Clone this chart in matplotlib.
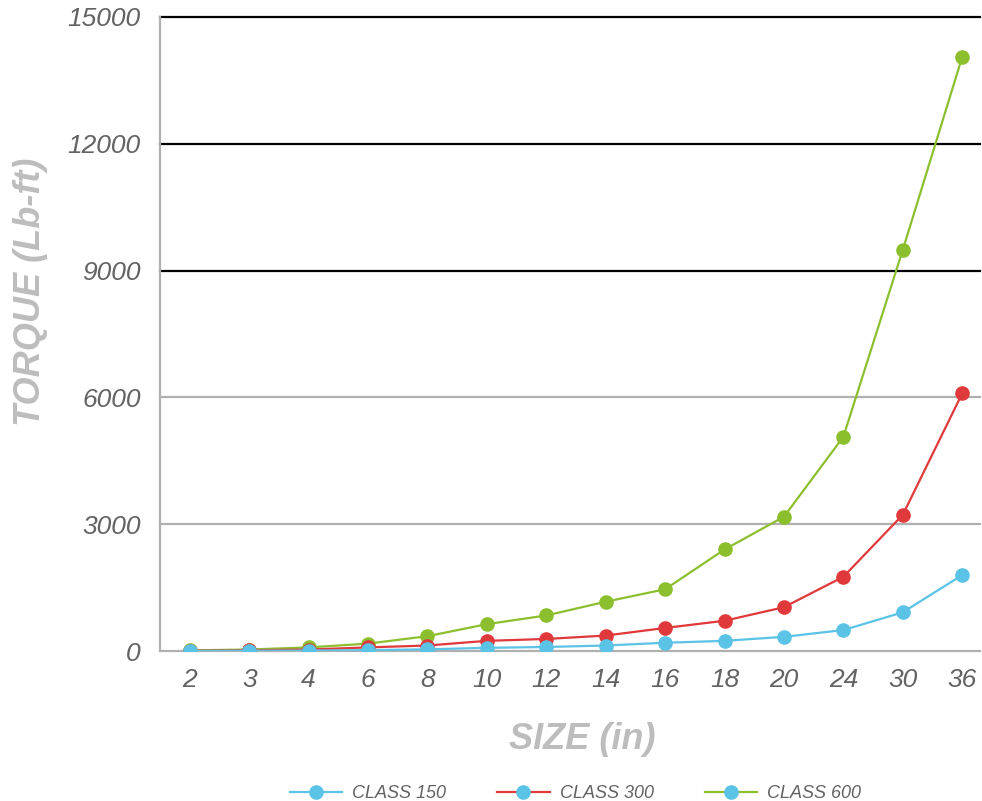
import matplotlib.pyplot as plt
from matplotlib.lines import Line2D
from matplotlib import font_manager

sizes = ['2', '3', '4', '6', '8', '10', '12', '14', '16', '18', '20', '24', '30', '36']
class150 = [5, 10, 15, 25, 45, 80, 100, 135, 200, 245, 340, 500, 920, 1800]
class300 = [10, 20, 40, 90, 135, 245, 290, 370, 550, 720, 1040, 1760, 3225, 6095]
class600 = [20, 40, 90, 180, 355, 640, 845, 1170, 1465, 2405, 3180, 5070, 9490, 14050]
yticks = [0, 3000, 6000, 9000, 12000, 15000]

names = [f.name for f in font_manager.fontManager.ttflist]
fam = 'Liberation Sans Narrow' if 'Liberation Sans Narrow' in names else 'Liberation Sans'
plt.rcParams['font.family'] = [fam, 'DejaVu Sans']

blue = '#5bc3e6'
red = '#e0393c'
green = '#8cbf2e'
tick_col = '#636363'
lab_col = '#bdbdbd'

fig = plt.figure(figsize=(9.82, 8.01), dpi=100)
ax = fig.add_axes([0.163, 0.187, 0.835, 0.792])

x = list(range(len(sizes)))
for yv in yticks:
    c = 'black' if yv >= 9000 else '#b0b0b0'
    ax.axhline(yv, color=c, lw=1.6, zorder=1, clip_on=False)

ax.plot(x, class600, color=green, lw=1.6, marker='o', ms=9.5, zorder=3)
ax.plot(x, class300, color=red, lw=1.6, marker='o', ms=9.5, zorder=4)
ax.plot(x, class150, color=blue, lw=1.6, marker='o', ms=9.5, zorder=5)

ax.set_xlim(-0.5, 13.3)
ax.set_ylim(0, 15000)
ax.set_xticks(x)
ax.set_xticklabels(sizes)
ax.set_yticks(yticks)
for s in ['top', 'right', 'bottom']:
    ax.spines[s].set_visible(False)
ax.spines['left'].set_color('#b0b0b0')
ax.spines['left'].set_linewidth(1.6)
ax.tick_params(length=0, labelsize=19, labelcolor=tick_col, pad=12)
ax.tick_params(axis='y', pad=14)
for t in ax.get_xticklabels() + ax.get_yticklabels():
    t.set_style('italic')

ax.set_xlabel('SIZE (in)', fontsize=26, color=lab_col, style='italic', fontweight='bold')
ax.set_ylabel('TORQUE (Lb-ft)', fontsize=26, color=lab_col, style='italic', fontweight='bold')
ax.xaxis.set_label_coords(0.515, -0.112)
ax.yaxis.set_label_coords(-0.137, 0.566)

handles = [
    Line2D([], [], color=blue, lw=1.6, marker='o', ms=9.5, markerfacecolor=blue, markeredgecolor=blue),
    Line2D([], [], color=red, lw=1.6, marker='o', ms=9.5, markerfacecolor=blue, markeredgecolor=blue),
    Line2D([], [], color=green, lw=1.6, marker='o', ms=9.5, markerfacecolor=blue, markeredgecolor=blue),
]
leg = fig.legend(handles, ['CLASS 150', 'CLASS 300', 'CLASS 600'], loc='center',
                 bbox_to_anchor=(0.586, 0.009), ncol=3, frameon=False, handlelength=2.9,
                 columnspacing=2.85, handletextpad=0.55, borderpad=0,
                 prop={'size': 13, 'style': 'italic'})
for t in leg.get_texts():
    t.set_color(tick_col)

fig.savefig('out.png', dpi=100)
